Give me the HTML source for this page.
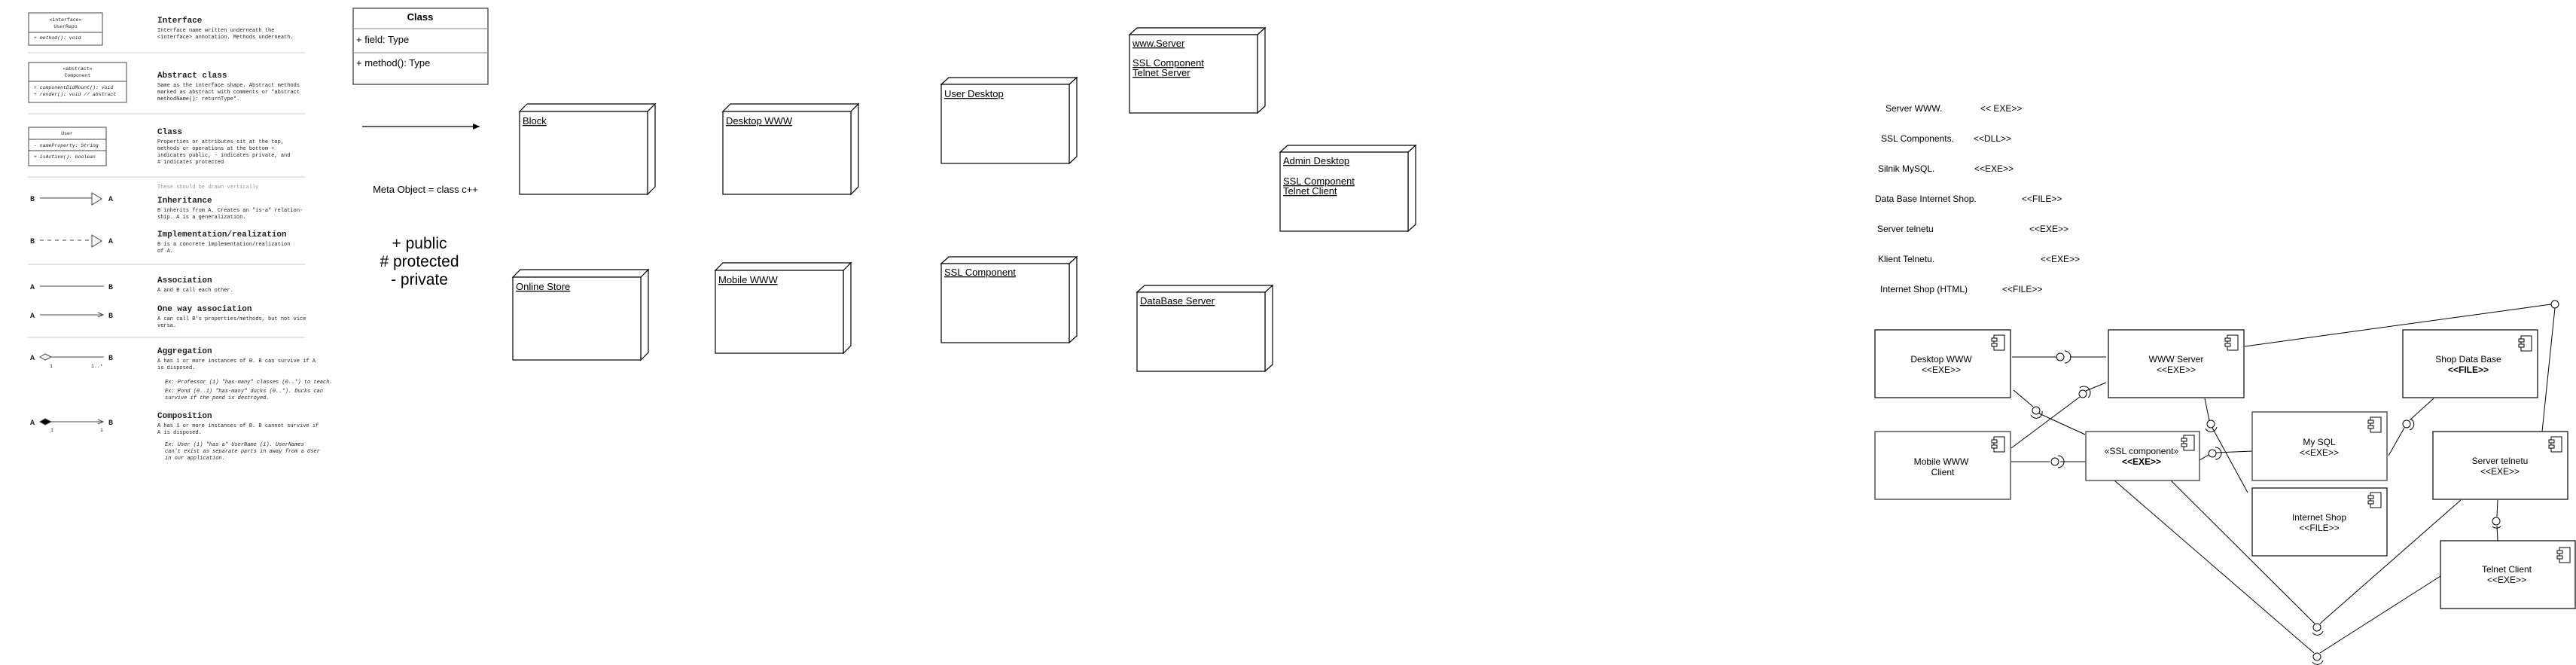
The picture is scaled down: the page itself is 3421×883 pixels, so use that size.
<!DOCTYPE html>
<html><head><meta charset="utf-8"><style>
html,body{margin:0;padding:0;background:#fff;}
svg{display:block;}
.m{font-family:"Liberation Mono",monospace;fill:#222;}
.s{font-family:"Liberation Sans",sans-serif;fill:#000;}
</style></head><body>
<svg width="3421" height="883" viewBox="0 0 3421 883" xmlns="http://www.w3.org/2000/svg">
<defs>
<marker id="ar" markerWidth="10" markerHeight="10" refX="9" refY="5" orient="auto" markerUnits="userSpaceOnUse"><path d="M0,1 L9,5 L0,9 Z" fill="#000"/></marker>
<marker id="ar2" markerWidth="8" markerHeight="8" refX="7" refY="4" orient="auto" markerUnits="userSpaceOnUse"><path d="M0,1 L7,4 L0,7" fill="none" stroke="#444" stroke-width="1"/></marker>
<g id="ic"><rect x="3" y="0" width="14" height="20" fill="#fff" stroke="#000" stroke-width="1"/><rect x="0" y="4" width="7" height="4" fill="#fff" stroke="#000" stroke-width="1"/><rect x="0" y="11" width="7" height="4" fill="#fff" stroke="#000" stroke-width="1"/></g>
</defs>

<!-- LEFT CHEAT SHEET -->
<g stroke="#444" stroke-width="1" fill="#fff">
<rect x="38" y="17" width="98" height="43"/><line x1="38" y1="43" x2="136" y2="43"/>
<rect x="38" y="83" width="130" height="53"/><line x1="38" y1="108" x2="168" y2="108"/>
<rect x="38" y="169" width="103" height="51"/><line x1="38" y1="185" x2="141" y2="185"/><line x1="38" y1="200" x2="141" y2="200"/>
</g>
<g stroke="#ddd" stroke-width="1.5">
<line x1="37" y1="70" x2="405" y2="70"/><line x1="37" y1="151" x2="405" y2="151"/><line x1="37" y1="235" x2="405" y2="235"/><line x1="37" y1="351" x2="405" y2="351"/><line x1="37" y1="448" x2="405" y2="448"/>
</g>
<g class="m" font-size="6.5">
<text x="87" y="28" text-anchor="middle">«interface»</text>
<text x="87" y="37" text-anchor="middle">UserRepo</text>
<text x="45" y="52" font-style="italic">+ method(): void</text>
<text x="103" y="93" text-anchor="middle">«abstract»</text>
<text x="103" y="102" text-anchor="middle">Component</text>
<text x="45" y="118" font-style="italic">+ componentDidMount(): void</text>
<text x="45" y="127" font-style="italic">+ render(): void // abstract</text>
<text x="89" y="179" text-anchor="middle">User</text>
<text x="45" y="195" font-style="italic">- nameProperty: String</text>
<text x="45" y="210" font-style="italic">+ isActive(): boolean</text>
</g>
<g class="m" font-size="11" font-weight="bold">
<text x="209" y="30">Interface</text>
<text x="209" y="103">Abstract class</text>
<text x="209" y="178">Class</text>
<text x="209" y="269">Inheritance</text>
<text x="209" y="314">Implementation/realization</text>
<text x="209" y="375">Association</text>
<text x="209" y="413">One way association</text>
<text x="209" y="469">Aggregation</text>
<text x="209" y="555">Composition</text>
</g>
<g class="m" font-size="7">
<text x="209" y="42">Interface name written underneath the</text>
<text x="209" y="51">&lt;interface&gt; annotation. Methods underneath.</text>
<text x="209" y="115">Same as the interface shape. Abstract methods</text>
<text x="209" y="124">marked as abstract with comments or "abstract</text>
<text x="209" y="133">methodName(): returnType".</text>
<text x="209" y="190">Properties or attributes sit at the top,</text>
<text x="209" y="199">methods or operations at the bottom +</text>
<text x="209" y="208">indicates public, - indicates private, and</text>
<text x="209" y="217"># indicates protected</text>
<text x="209" y="250" fill="#999">These should be drawn vertically</text>
<text x="209" y="281">B inherits from A. Creates an "is-a" relation-</text>
<text x="209" y="290">ship. A is a generalization.</text>
<text x="209" y="326">B is a concrete implementation/realization</text>
<text x="209" y="335">of A.</text>
<text x="209" y="387">A and B call each other.</text>
<text x="209" y="425">A can call B's properties/methods, but not vice</text>
<text x="209" y="434">versa.</text>
<text x="209" y="481">A has 1 or more instances of B. B can survive if A</text>
<text x="209" y="490">is disposed.</text>
<text x="219" y="509" font-style="italic">Ex: Professor (1) "has-many" classes (0..*) to teach.</text>
<text x="219" y="521" font-style="italic">Ex: Pond (0..1) "has-many" ducks (0..*). Ducks can</text>
<text x="219" y="530" font-style="italic">survive if the pond is destroyed.</text>
<text x="209" y="567">A has 1 or more instances of B. B cannot survive if</text>
<text x="209" y="576">A is disposed.</text>
<text x="219" y="592" font-style="italic">Ex: User (1) "has a" UserName (1). UserNames</text>
<text x="219" y="601" font-style="italic">can't exist as separate parts in away from a User</text>
<text x="219" y="610" font-style="italic">in our application.</text>
</g>
<g class="m" font-size="10" font-weight="bold">
<text x="40" y="267">B</text><text x="144" y="267">A</text>
<text x="40" y="323">B</text><text x="144" y="323">A</text>
<text x="40" y="384">A</text><text x="144" y="384">B</text>
<text x="40" y="422">A</text><text x="144" y="422">B</text>
<text x="40" y="478">A</text><text x="144" y="478">B</text>
<text x="40" y="564">A</text><text x="144" y="564">B</text>
</g>
<g stroke="#444" stroke-width="1" fill="#fff">
<line x1="53" y1="263" x2="122" y2="263"/><path d="M122,256 L135,264 L122,272 Z"/>
<line x1="53" y1="319" x2="122" y2="319" stroke-dasharray="5,5"/><path d="M122,312 L135,320 L122,328 Z"/>
<line x1="53" y1="380" x2="138" y2="380"/>
<line x1="53" y1="418" x2="137" y2="418" marker-end="url(#ar2)"/>
<line x1="68" y1="474" x2="138" y2="474"/><path d="M53,474 L60,470 L68,474 L60,478 Z"/>
<line x1="68" y1="560" x2="137" y2="560" marker-end="url(#ar2)"/><path d="M53,560 L60,556 L68,560 L60,564 Z" fill="#000"/>
</g>
<g class="m" font-size="6.5"><text x="66" y="488">1</text><text x="121" y="488">1..*</text><text x="67" y="573">1</text><text x="133" y="573">1</text></g>

<!-- MIDDLE: class + notes -->
<g stroke="#333" stroke-width="1.2" fill="#fff">
<rect x="469" y="11" width="179" height="101"/>
<line x1="469" y1="38" x2="648" y2="38" stroke="#999"/><line x1="469" y1="70" x2="648" y2="70" stroke="#999"/>
</g>
<g class="s" font-size="13">
<text x="558" y="27" text-anchor="middle" font-weight="bold">Class</text>
<text x="473" y="57">+ field: Type</text>
<text x="473" y="88">+ method(): Type</text>
<text x="565" y="256" text-anchor="middle">Meta Object = class c++</text>
</g>
<line x1="481" y1="168" x2="637" y2="168" stroke="#000" stroke-width="1.3" marker-end="url(#ar)"/>
<g class="s" font-size="21" text-anchor="middle">
<text x="557" y="330">+ public</text>
<text x="557" y="354"># protected</text>
<text x="557" y="378">- private</text>
</g>

<!-- Deployment nodes -->
<g stroke="#000" stroke-width="1.2" fill="#fff">
<path d="M690,148 L700,138 L870,138 L860,148 Z M860,148 L870,138 L870,248 L860,258 Z"/><rect x="690" y="148" width="170" height="110"/>
<path d="M960,148 L970,138 L1140,138 L1130,148 Z M1130,148 L1140,138 L1140,248 L1130,258 Z"/><rect x="960" y="148" width="170" height="110"/>
<path d="M681,368 L691,358 L861,358 L851,368 Z M851,368 L861,358 L861,468 L851,478 Z"/><rect x="681" y="368" width="170" height="110"/>
<path d="M950,359 L960,349 L1130,349 L1120,359 Z M1120,359 L1130,349 L1130,459 L1120,469 Z"/><rect x="950" y="359" width="170" height="110"/>
<path d="M1250,112 L1260,103 L1430,103 L1420,112 Z M1420,112 L1430,103 L1430,208 L1420,217 Z"/><rect x="1250" y="112" width="170" height="105"/>
<path d="M1500,46 L1510,37 L1680,37 L1670,46 Z M1670,46 L1680,37 L1680,141 L1670,150 Z"/><rect x="1500" y="46" width="170" height="104"/>
<path d="M1700,202 L1710,193 L1880,193 L1870,202 Z M1870,202 L1880,193 L1880,298 L1870,307 Z"/><rect x="1700" y="202" width="170" height="105"/>
<path d="M1250,350 L1260,341 L1430,341 L1420,350 Z M1420,350 L1430,341 L1430,446 L1420,455 Z"/><rect x="1250" y="350" width="170" height="105"/>
<path d="M1510,388 L1520,379 L1690,379 L1680,388 Z M1680,388 L1690,379 L1690,484 L1680,493 Z"/><rect x="1510" y="388" width="170" height="105"/>
</g>
<g class="s" font-size="13" text-decoration="underline">
<text x="694" y="165">Block</text>
<text x="964" y="165">Desktop WWW</text>
<text x="685" y="385">Online Store</text>
<text x="954" y="376">Mobile WWW</text>
<text x="1254" y="129">User Desktop</text>
<text x="1504" y="62">www.Server</text>
<text x="1504" y="88">SSL Component</text>
<text x="1504" y="101">Telnet Server</text>
<text x="1704" y="218">Admin Desktop</text>
<text x="1704" y="245">SSL Component</text>
<text x="1704" y="258">Telnet Client</text>
<text x="1254" y="366">SSL Component</text>
<text x="1514" y="404">DataBase Server</text>
</g>

<!-- Right list -->
<g class="s" font-size="12">
<text x="2504" y="148">Server WWW.</text><text x="2630" y="148">&lt;&lt; EXE&gt;&gt;</text>
<text x="2498" y="188">SSL Components.</text><text x="2621" y="188">&lt;&lt;DLL&gt;&gt;</text>
<text x="2494" y="228">Silnik MySQL.</text><text x="2622" y="228">&lt;&lt;EXE&gt;&gt;</text>
<text x="2490" y="268">Data Base Internet Shop.</text><text x="2685" y="268">&lt;&lt;FILE&gt;&gt;</text>
<text x="2493" y="308">Server telnetu</text><text x="2695" y="308">&lt;&lt;EXE&gt;&gt;</text>
<text x="2494" y="348">Klient Telnetu.</text><text x="2710" y="348">&lt;&lt;EXE&gt;&gt;</text>
<text x="2497" y="388">Internet Shop (HTML)</text><text x="2659" y="388">&lt;&lt;FILE&gt;&gt;</text>
</g>

<!-- Component diagram connectors -->
<g stroke="#000" stroke-width="1" fill="none">
<line x1="2672" y1="474" x2="2731" y2="474"/><line x1="2749" y1="474" x2="2797" y2="474"/>
<line x1="2674" y1="518" x2="2700" y2="540"/><line x1="2708" y1="549" x2="2769" y2="577"/>
<line x1="2671" y1="595" x2="2762" y2="527"/><line x1="2770" y1="519" x2="2797" y2="508"/>
<line x1="2671" y1="613" x2="2722" y2="613"/><line x1="2736" y1="613" x2="2770" y2="613"/>
<line x1="2981" y1="460" x2="3388" y2="404"/><line x1="3393" y1="409" x2="3376" y2="573"/>
<line x1="2928" y1="529" x2="2934" y2="558"/><line x1="2938" y1="568" x2="2985" y2="654"/>
<line x1="2921" y1="611" x2="2933" y2="604"/><line x1="2943" y1="601" x2="2991" y2="599"/>
<line x1="3172" y1="605" x2="3193" y2="568"/><line x1="3200" y1="558" x2="3232" y2="529"/>
<line x1="2808" y1="638" x2="3073" y2="867"/><line x1="3081" y1="867" x2="3241" y2="765"/>
<line x1="2883" y1="638" x2="3074" y2="828"/><line x1="3081" y1="828" x2="3268" y2="664"/>
<line x1="3317" y1="664" x2="3316" y2="686"/><line x1="3316" y1="698" x2="3317" y2="718"/>
</g>
<g stroke="#000" stroke-width="1" fill="#fff">
<circle cx="2736" cy="474" r="5"/><path d="M2742,466 A8,8 0 0 1 2742,482" fill="none"/>
<circle cx="2704" cy="545" r="5"/><path d="M2697,551 A8,8 0 0 0 2712,546" fill="none"/>
<circle cx="2766" cy="523" r="5"/><path d="M2762,515 A8,8 0 0 1 2773,528" fill="none"/>
<circle cx="2729" cy="613" r="5"/><path d="M2733,605 A8,8 0 0 1 2733,621" fill="none"/>
<circle cx="3393" cy="404" r="5"/>
<circle cx="2936" cy="563" r="5"/><path d="M2929,569 A8,8 0 0 0 2944,567" fill="none"/>
<circle cx="2938" cy="602" r="5"/><path d="M2942,594 A8,8 0 0 1 2942,610" fill="none"/>
<circle cx="3196" cy="563" r="5"/><path d="M3201,556 A8,8 0 0 1 3200,571" fill="none"/>
<circle cx="3077" cy="872" r="5"/><path d="M3071,879 A8,8 0 0 0 3085,877" fill="none"/>
<circle cx="3077" cy="833" r="5"/><path d="M3071,840 A8,8 0 0 0 3085,838" fill="none"/>
<circle cx="3315" cy="692" r="5"/><path d="M3310,699 A8,8 0 0 0 3321,699" fill="none"/>
</g>

<!-- Components -->
<g stroke="#000" stroke-width="1.2" fill="#fff">
<rect x="2490" y="438" width="180" height="90"/>
<rect x="2800" y="438" width="180" height="90"/>
<rect x="3191" y="438" width="179" height="90"/>
<rect x="2490" y="573" width="180" height="90" stroke="#555" stroke-width="1.5"/>
<rect x="2770" y="573" width="151" height="65" stroke="#555" stroke-width="1.5"/>
<rect x="2991" y="547" width="179" height="91" stroke="#555" stroke-width="1.5"/>
<rect x="2991" y="648" width="179" height="90"/>
<rect x="3231" y="573" width="179" height="90"/>
<rect x="3241" y="718" width="179" height="90"/>
</g>
<use href="#ic" x="2645" y="445"/>
<use href="#ic" x="2955" y="445"/>
<use href="#ic" x="3345" y="446"/>
<use href="#ic" x="2645" y="580"/>
<use href="#ic" x="2897" y="578"/>
<use href="#ic" x="3145" y="554"/>
<use href="#ic" x="3145" y="654"/>
<use href="#ic" x="3385" y="580"/>
<use href="#ic" x="3396" y="727"/>
<g class="s" font-size="12" text-anchor="middle">
<text x="2578" y="481">Desktop WWW</text><text x="2578" y="495">&lt;&lt;EXE&gt;&gt;</text>
<text x="2890" y="481">WWW Server</text><text x="2890" y="495">&lt;&lt;EXE&gt;&gt;</text>
<text x="3278" y="481">Shop Data Base</text><text x="3278" y="495" font-weight="bold">&lt;&lt;FILE&gt;&gt;</text>
<text x="2578" y="617">Mobile WWW</text><text x="2580" y="631">Client</text>
<text x="2844" y="603">«SSL component»</text><text x="2844" y="617" font-weight="bold">&lt;&lt;EXE&gt;&gt;</text>
<text x="3080" y="591">My SQL</text><text x="3080" y="605">&lt;&lt;EXE&gt;&gt;</text>
<text x="3080" y="691">Internet Shop</text><text x="3080" y="705">&lt;&lt;FILE&gt;&gt;</text>
<text x="3320" y="616">Server telnetu</text><text x="3320" y="630">&lt;&lt;EXE&gt;&gt;</text>
<text x="3329" y="760">Telnet Client</text><text x="3329" y="774">&lt;&lt;EXE&gt;&gt;</text>
</g>
</svg>
</body></html>
